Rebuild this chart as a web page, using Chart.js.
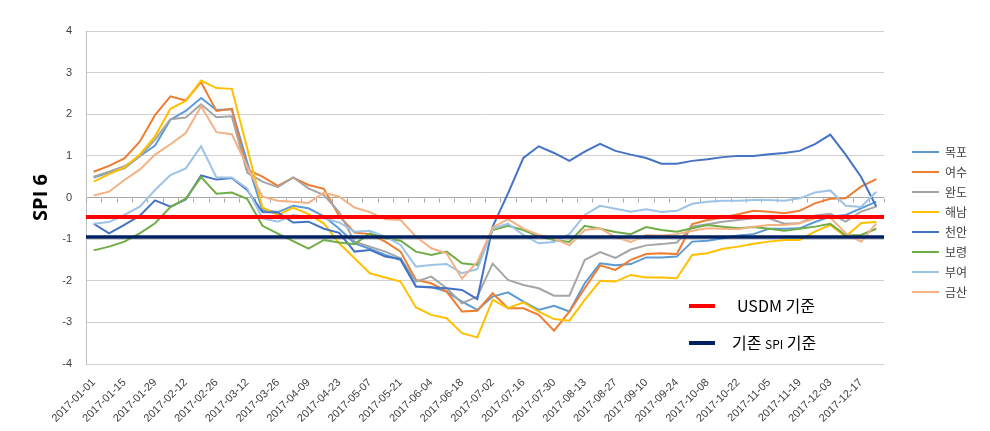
<!DOCTYPE html>
<html>
<head>
<meta charset="utf-8">
<script src="https://cdn.jsdelivr.net/npm/chart.js@4"></script>
<style>
  html, body { margin: 0; padding: 0; background: #fff; }
</style>
</head>
<body>
<canvas id="spiChart" width="990" height="431"></canvas>
<script>
// weekly SPI6 values, 2017
const weeks = [
  '2017-01-01','2017-01-08','2017-01-15','2017-01-22','2017-01-29','2017-02-05','2017-02-12','2017-02-19',
  '2017-02-26','2017-03-05','2017-03-12','2017-03-19','2017-03-26','2017-04-02','2017-04-09','2017-04-16',
  '2017-04-23','2017-04-30','2017-05-07','2017-05-14','2017-05-21','2017-05-28','2017-06-04','2017-06-11',
  '2017-06-18','2017-06-25','2017-07-02','2017-07-09','2017-07-16','2017-07-23','2017-07-30','2017-08-06',
  '2017-08-13','2017-08-20','2017-08-27','2017-09-03','2017-09-10','2017-09-17','2017-09-24','2017-10-01',
  '2017-10-08','2017-10-15','2017-10-22','2017-10-29','2017-11-05','2017-11-12','2017-11-19','2017-11-26',
  '2017-12-03','2017-12-10','2017-12-17','2017-12-24'
];

const mokpo = [0.48,0.6,0.7,0.99,1.25,1.87,2.08,2.39,2.1,2.12,0.85,-0.3,-0.35,-0.2,-0.26,-0.45,-0.75,-1.1,-1.23,-1.38,
  -1.5,-2.14,-2.15,-2.26,-2.5,-2.7,-2.38,-2.28,-2.5,-2.7,-2.6,-2.74,-2.06,-1.58,-1.63,-1.6,-1.44,-1.44,-1.42,-1.06,
  -1.04,-0.98,-0.91,-0.88,-0.75,-0.75,-0.74,-0.59,-0.46,-0.42,-0.26,-0.1];
const yeosu = [0.62,0.76,0.94,1.34,1.98,2.43,2.33,2.77,2.08,2.13,0.67,0.5,0.28,0.48,0.3,0.21,-0.45,-0.84,-0.88,-1.06,
  -1.3,-1.98,-2.06,-2.26,-2.74,-2.72,-2.3,-2.66,-2.66,-2.82,-3.2,-2.74,-2.18,-1.63,-1.74,-1.5,-1.36,-1.34,-1.36,-0.64,
  -0.54,-0.48,-0.4,-0.32,-0.34,-0.38,-0.32,-0.14,-0.03,-0.02,0.26,0.44];
const wando = [0.5,0.62,0.75,0.99,1.39,1.88,1.92,2.24,1.93,1.95,0.6,0.38,0.25,0.48,0.22,0.06,-0.35,-1.06,-1.18,-1.3,
  -1.46,-2.02,-1.9,-2.18,-2.54,-2.38,-1.59,-1.98,-2.1,-2.18,-2.36,-2.36,-1.5,-1.31,-1.45,-1.25,-1.15,-1.12,-1.08,-0.7,
  -0.64,-0.58,-0.54,-0.5,-0.5,-0.63,-0.62,-0.43,-0.39,-0.58,-0.34,-0.22];
const haenam = [0.38,0.56,0.72,1.03,1.47,2.13,2.32,2.81,2.63,2.61,1.19,-0.24,-0.42,-0.24,-0.4,-0.62,-1.1,-1.46,-1.82,-1.92,
  -2.02,-2.64,-2.82,-2.9,-3.26,-3.36,-2.46,-2.66,-2.52,-2.74,-2.92,-2.96,-2.46,-2.0,-2.02,-1.86,-1.92,-1.92,-1.94,-1.38,
  -1.34,-1.23,-1.18,-1.11,-1.06,-1.02,-1.02,-0.82,-0.66,-0.94,-0.62,-0.58];
const cheonan = [-0.63,-0.86,-0.66,-0.44,-0.07,-0.22,-0.05,0.53,0.43,0.47,0.18,-0.35,-0.36,-0.6,-0.58,-0.75,-0.85,-1.3,-1.26,-1.42,
  -1.48,-2.14,-2.16,-2.18,-2.22,-2.44,-0.7,0.1,0.95,1.23,1.07,0.88,1.1,1.29,1.12,1.03,0.95,0.81,0.81,0.88,
  0.92,0.97,1.0,1.0,1.04,1.07,1.12,1.28,1.51,1.03,0.5,-0.22];
const boryeong = [-1.27,-1.18,-1.06,-0.86,-0.62,-0.23,-0.03,0.49,0.09,0.12,-0.03,-0.68,-0.87,-1.05,-1.23,-1.02,-1.08,-1.12,-0.86,-0.98,
  -1.04,-1.3,-1.38,-1.3,-1.58,-1.62,-0.78,-0.68,-0.78,-0.94,-1.02,-1.07,-0.68,-0.75,-0.83,-0.88,-0.71,-0.78,-0.82,-0.74,
  -0.66,-0.7,-0.74,-0.71,-0.75,-0.8,-0.75,-0.7,-0.63,-0.91,-0.9,-0.75];
const buyeo = [-0.63,-0.59,-0.42,-0.22,0.18,0.54,0.7,1.23,0.48,0.48,0.22,-0.5,-0.58,-0.42,-0.48,-0.5,-0.6,-0.82,-0.8,-0.94,
  -1.14,-1.66,-1.62,-1.6,-1.82,-1.72,-0.75,-0.63,-0.9,-1.1,-1.07,-0.88,-0.42,-0.2,-0.27,-0.34,-0.28,-0.35,-0.32,-0.15,
  -0.1,-0.08,-0.08,-0.06,-0.06,-0.08,-0.02,0.12,0.17,-0.2,-0.23,0.14];
const geumsan = [0.05,0.14,0.42,0.67,1.03,1.28,1.55,2.19,1.57,1.52,0.75,0.02,-0.08,-0.1,-0.13,0.12,0.02,-0.24,-0.35,-0.52,
  -0.54,-0.94,-1.22,-1.34,-1.95,-1.55,-0.72,-0.52,-0.75,-0.9,-0.98,-1.15,-0.78,-0.74,-0.95,-1.07,-0.9,-0.91,-0.88,-0.8,
  -0.74,-0.75,-0.76,-0.7,-0.66,-0.66,-0.62,-0.5,-0.48,-0.86,-1.06,-0.62];

const stationNames = ['목포', '여수', '완도', '해남', '천안', '보령', '부여', '금산'];
const stationData = [mokpo, yeosu, wando, haenam, cheonan, boryeong, buyeo, geumsan];
const stationColors = ['#5B9BD5', '#ED7D31', '#A5A5A5', '#FFC000', '#4472C4', '#70AD47', '#9DC3E6', '#F4B183'];

// drought threshold lines
const thresholdNames = ['USDM 기준', '기존 SPI 기준'];
const thresholdValues = [-0.47, -0.95];
const thresholdColors = ['#FF0000', '#002060'];

const koFont = '"Noto Sans CJK KR", "Noto Sans", sans-serif';

const extras = {
  id: 'extras',
  beforeDatasetsDraw(chart) {
    // small tick marks on the zero line
    const { ctx, scales: { x, y } } = chart;
    const y0 = Math.round(y.getPixelForValue(0)) + 0.5;
    const half = (x.getPixelForValue(1) - x.getPixelForValue(0)) / 2;
    ctx.save();
    ctx.strokeStyle = '#a6a6a6';
    ctx.lineWidth = 1;
    for (let i = 0; i <= weeks.length; i++) {
      const px = Math.round(x.getPixelForValue(i) - half) + 0.5;
      ctx.beginPath();
      ctx.moveTo(px, y0);
      ctx.lineTo(px, y0 + 4);
      ctx.stroke();
    }
    ctx.restore();
  },
  afterDatasetsDraw(chart) {
    const { ctx, chartArea: a, scales: { y } } = chart;
    ctx.save();
    thresholdValues.forEach((v, i) => {
      const py = y.getPixelForValue(v);
      ctx.strokeStyle = thresholdColors[i];
      ctx.lineWidth = i === 0 ? 4 : 3.5;
      ctx.beginPath();
      ctx.moveTo(a.left, py);
      ctx.lineTo(a.right, py);
      ctx.stroke();
    });

    // threshold legend inside the plot
    ctx.textBaseline = 'middle';
    ctx.fillStyle = '#000';
    thresholdNames.forEach((name, i) => {
      const ly = 306 + i * 37;
      ctx.strokeStyle = thresholdColors[i];
      ctx.lineWidth = 4;
      ctx.beginPath();
      ctx.moveTo(689, ly);
      ctx.lineTo(715, ly);
      ctx.stroke();
      let tx = i === 0 ? 737 : 732;
      name.split(/(SPI)/).forEach(part => {
        ctx.font = (part === 'SPI' ? '12px ' : '16px ') + koFont;
        ctx.fillText(part, tx, ly + (part === 'SPI' ? 1 : 0));
        tx += ctx.measureText(part).width;
      });
    });

    // station legend on the right
    ctx.font = '12px ' + koFont;
    ctx.fillStyle = '#404040';
    stationNames.forEach((name, i) => {
      const ly = 152 + i * 20;
      ctx.strokeStyle = stationColors[i];
      ctx.lineWidth = 2;
      ctx.beginPath();
      ctx.moveTo(912, ly);
      ctx.lineTo(939, ly);
      ctx.stroke();
      ctx.fillText(name, 945, ly);
    });
    ctx.restore();
  }
};

new Chart(document.getElementById('spiChart'), {
  type: 'line',
  data: {
    labels: weeks,
    datasets: stationNames.map((name, i) => ({
      label: name,
      data: stationData[i],
      borderColor: stationColors[i],
      borderWidth: 2,
      pointRadius: 0,
      tension: 0,
      fill: false,
      order: stationNames.length - i
    }))
  },
  options: {
    responsive: false,
    animation: false,
    layout: { padding: { top: 31, right: 106, left: 0, bottom: 0 } },
    plugins: {
      legend: { display: false },
      tooltip: { enabled: false }
    },
    scales: {
      x: {
        offset: true,
        grid: { display: false },
        border: { display: false },
        afterFit: s => { s.height = 67; },
        ticks: {
          autoSkip: false,
          maxRotation: 45,
          minRotation: 45,
          padding: 4,
          color: '#404040',
          font: { size: 11, family: '"Liberation Sans", Arial, sans-serif' },
          callback: function (val, idx) { return idx % 2 === 0 ? this.getLabelForValue(val) : ''; }
        }
      },
      y: {
        min: -4,
        max: 4,
        afterFit: s => { s.width = 86; },
        border: { display: true, color: '#bfbfbf' },
        grid: {
          drawTicks: false,
          color: c => (c.tick && c.tick.value === 0 ? '#a6a6a6' : '#d0d0d0')
        },
        ticks: {
          stepSize: 1,
          padding: 14,
          color: '#404040',
          font: { size: 11, family: '"Liberation Sans", Arial, sans-serif' }
        },
        title: {
          display: true,
          text: 'SPI 6',
          color: '#000',
          font: { size: 20, weight: 'bold', family: '"Open Sans", sans-serif' },
          padding: { top: 29, bottom: 0 }
        }
      }
    }
  },
  plugins: [extras]
});
</script>
</body>
</html>
